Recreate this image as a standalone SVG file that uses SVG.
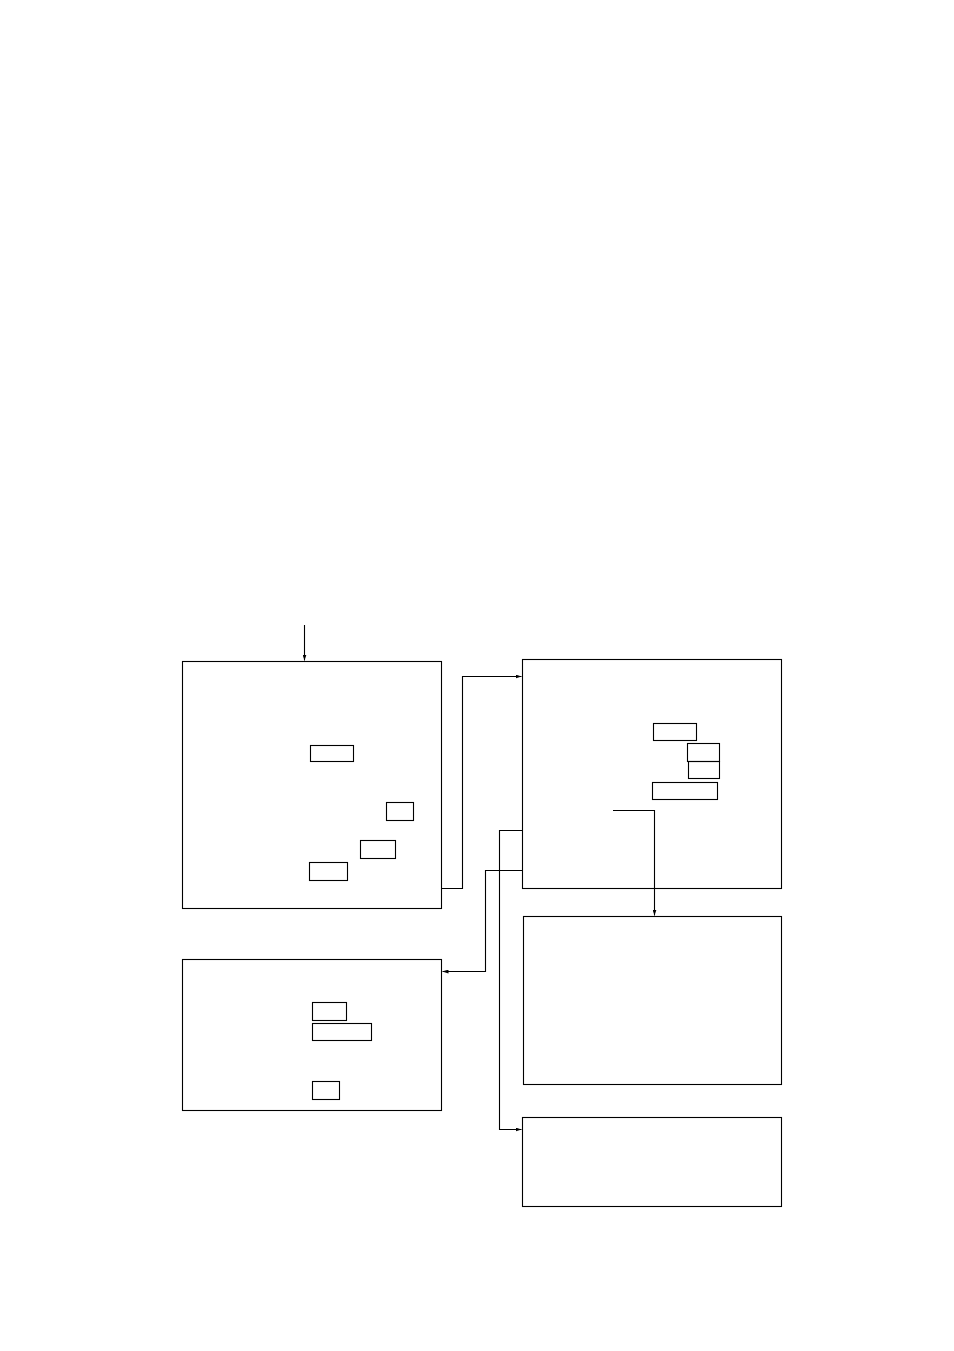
<svg xmlns="http://www.w3.org/2000/svg" width="954" height="1351" viewBox="0 0 954 1351">
<style>
.box{fill:#fff;stroke:#000;stroke-width:1.1}
.sub{fill:none;stroke:#000;stroke-width:1.1}
.conn{fill:none;stroke:#000;stroke-width:1.1}
</style>
<defs>
<marker id="ah" viewBox="0 0 6 4" refX="6" refY="2" markerWidth="6" markerHeight="4" markerUnits="userSpaceOnUse" orient="auto">
<path d="M0,0 L6,2 L0,4 Z" fill="#000"/>
</marker>
</defs>
<rect width="954" height="1351" fill="#fff"/>
<g id="node1">
<rect class="box" x="182.5" y="661.5" width="259" height="247"/>
<rect class="sub" x="310.5" y="745.5" width="43" height="16"/>
<rect class="sub" x="386.5" y="802.5" width="27" height="18"/>
<rect class="sub" x="360.5" y="840.5" width="35" height="18"/>
<rect class="sub" x="309.5" y="862.5" width="38" height="18"/>
</g>
<g id="node2">
<rect class="box" x="522.5" y="659.5" width="259" height="229"/>
<rect class="sub" x="653.5" y="723.5" width="43" height="17"/>
<rect class="sub" x="687.5" y="743.5" width="32" height="18"/>
<rect class="sub" x="688.5" y="761.5" width="31" height="17"/>
<rect class="sub" x="652.5" y="782.5" width="65" height="17"/>
</g>
<g id="node3">
<rect class="box" x="523.5" y="916.5" width="258" height="168"/>
</g>
<g id="node4">
<rect class="box" x="182.5" y="959.5" width="259" height="151"/>
<rect class="sub" x="312.5" y="1002.5" width="34" height="18"/>
<rect class="sub" x="312.5" y="1023.5" width="59" height="17"/>
<rect class="sub" x="312.5" y="1081.5" width="27" height="18"/>
</g>
<g id="node5">
<rect class="box" x="522.5" y="1117.5" width="259" height="89"/>
</g>
<g id="connectors">
<path class="conn" d="M304.5,625 L304.5,660.5" marker-end="url(#ah)"/>
<path class="conn" d="M441.5,888.5 L462.5,888.5 L462.5,676.5 L521.5,676.5" marker-end="url(#ah)"/>
<path class="conn" d="M613,810.5 L654.5,810.5 L654.5,915.5" marker-end="url(#ah)"/>
<path class="conn" d="M522.5,870.5 L485.5,870.5 L485.5,971.5 L442.5,971.5" marker-end="url(#ah)"/>
<path class="conn" d="M522.5,830.5 L499.5,830.5 L499.5,1129.5 L521.5,1129.5" marker-end="url(#ah)"/>
</g>
</svg>
